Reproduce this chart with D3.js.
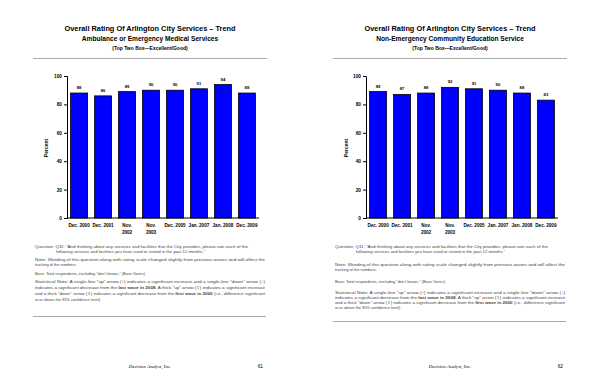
<!DOCTYPE html>
<html>
<head>
<meta charset="utf-8">
<script src="https://cdn.jsdelivr.net/npm/d3@7"></script>
<style>
body { margin: 0; background: #fff; }
svg { display: block; font-family: 'Liberation Sans', Arial, sans-serif; }
</style>
</head>
<body>
<div id="playground"></div>
<script>
// Data
var periods = ['Dec. 2000', 'Dec. 2001', 'Nov.|2002', 'Nov.|2003', 'Dec. 2005', 'Jan. 2007', 'Jan. 2008', 'Dec. 2009']
var ambulanceValues = [88, 86, 89, 90, 90, 91, 94, 88]
var educationValues = [89, 87, 88, 92, 91, 90, 88, 83]
var yTicks = [0, 20, 40, 60, 80, 100]

var titleMain = 'Overall Rating Of Arlington City Services \u2013 Trend'
var subtitles = ['Ambulance or Emergency Medical Services', 'Non-Emergency Community Education Service']
var titleNote = '(Top Two Box\u2014Excellent/Good)'
var pageNumbers = ['61', '62']

var settings = {}
settings.width = 600
settings.height = 388
settings.font = "'Liberation Sans', Arial, sans-serif"

var svg = d3.select('#playground').append('svg')
	.attr('width', settings.width)
	.attr('height', settings.height)

// one page per chart
var pages = [
	{ dx: 0, values: ambulanceValues, subtitle: subtitles[0], page: pageNumbers[0], footGap: [0, 0, 0], bottomRule: 316 },
	{ dx: 300, values: educationValues, subtitle: subtitles[1], page: pageNumbers[1], footGap: [0, 5, 8], bottomRule: 321 }
]

pages.forEach(function(p){
	var g = svg.append('g').attr('transform', 'translate(' + p.dx + ',0)')

	// Titles
	g.append('text').attr('x', 150).attr('y', 31)
		.attr('text-anchor', 'middle').attr('font-size', 6.6).attr('font-weight', 'bold')
		.attr('textLength', 171).attr('lengthAdjust', 'spacingAndGlyphs')
		.text(titleMain)
	g.append('text').attr('x', 150).attr('y', 41)
		.attr('text-anchor', 'middle').attr('font-size', 6.6).attr('font-weight', 'bold')
		.text(p.subtitle)
	g.append('text').attr('x', 150).attr('y', 50)
		.attr('text-anchor', 'middle').attr('font-size', 5).attr('font-weight', 'bold')
		.text(titleNote)
	g.append('line').attr('x1', 33).attr('x2', 267).attr('y1', 58.5).attr('y2', 58.5)
		.attr('stroke', '#aaa').attr('stroke-width', 1)

	// Scales
	var x0 = p.dx === 0 ? 67 : 66
	var x = d3.scaleBand().domain(periods).range([x0, x0 + 192]).paddingInner(0.29).paddingOuter(0.15)
	var y = d3.scaleLinear().domain([0, 100]).range([218, 76])

	// Bars
	g.selectAll('rect.bar').data(p.values).enter().append('rect')
		.attr('class', 'bar')
		.attr('x', function(d, i){ return x(periods[i]) })
		.attr('y', function(d){ return y(d) })
		.attr('width', x.bandwidth())
		.attr('height', function(d){ return y(0) - y(d) })
		.attr('fill', '#0000ff')
		.attr('stroke', '#000')
		.attr('stroke-width', 0.8)

	// Value labels
	g.selectAll('text.val').data(p.values).enter().append('text')
		.attr('class', 'val')
		.attr('x', function(d, i){ return x(periods[i]) + x.bandwidth() / 2 })
		.attr('y', function(d){ return y(d) - 4 })
		.attr('text-anchor', 'middle').attr('font-size', 4.2).attr('font-weight', 'bold')
		.text(function(d){ return d })

	// Y axis
	var yAxis = g.append('g').attr('transform', 'translate(' + x0 + ',0)')
		.call(d3.axisLeft(y).tickValues(yTicks).tickSize(3).tickPadding(2))
	yAxis.select('.domain').attr('stroke', '#000').attr('stroke-width', 1)
	yAxis.selectAll('.tick line').attr('stroke', '#000')
	yAxis.selectAll('.tick text').attr('font-size', 4.8).attr('font-weight', 'bold')
		.attr('font-family', settings.font).attr('fill', '#000')

	// X axis baseline
	g.append('line').attr('x1', x0).attr('x2', x0 + 192).attr('y1', y(0)).attr('y2', y(0))
		.attr('stroke', '#000').attr('stroke-width', 1)

	// X labels
	periods.forEach(function(lab){
		var parts = lab.split('|')
		var t = g.append('text')
			.attr('x', x(lab) + x.bandwidth() / 2).attr('y', 227)
			.attr('text-anchor', 'middle').attr('font-size', 4.6).attr('font-weight', 'bold')
		parts.forEach(function(s, k){
			t.append('tspan').attr('x', x(lab) + x.bandwidth() / 2).attr('dy', k === 0 ? 0 : 6.5).text(s)
		})
	})

	// Y label
	g.append('text').attr('transform', 'translate(48,148) rotate(-90)')
		.attr('text-anchor', 'middle').attr('font-size', 5).attr('font-weight', 'bold')
		.text('Percent')

	// Footnotes
	var fs = 3.9
	function line(txt, xx, yy, len){
		var t = g.append('text').attr('x', xx).attr('y', yy).attr('font-size', fs).attr('fill', '#444')
		if (len) t.attr('textLength', len).attr('lengthAdjust', 'spacingAndGlyphs')
		if (typeof txt === 'string') t.text(txt)
		else txt.forEach(function(s){
			t.append('tspan').attr('font-weight', s.b ? 'bold' : null).text(s.t)
		})
		return t
	}
	var gn = p.footGap[1], gs = p.footGap[2]
	line('Question:  Q11: \u201cAnd thinking about any services and facilities that the City provides, please rate each of the', 35, 248, 213)
	line('following services and facilities you have used or visited in the past 12 months.\u201d', 56, 253, 149)
	line('Note:  Wording of this question along with rating scale changed slightly from previous waves and will affect the', 35, 261 + gn, 230)
	line('tracking of the numbers.', 35, 266 + gn)
	line('Base:  Total respondents, excluding \u201cdon\u2019t knows.\u201d  (Base Varies)', 35, 275 + gs)
	line('Statistical Note:   A single-line \u201cup\u201d arrow (\u2191) indicates a significant increase and a single-line \u201cdown\u201d arrow (\u2193)', 35, 283 + gs + (p.dx ? 3 : 0), 230)
	line([{t: 'indicates a significant decrease from the '}, {t: 'last wave in 2008', b: 1}, {t: '.  A thick \u201cup\u201d arrow (\u21e7) indicates a significant increase'}], 35, 289 + gs + (p.dx ? 2 : 0), 230)
	line([{t: 'and a thick \u201cdown\u201d arrow (\u21e9) indicates a significant decrease from the '}, {t: 'first wave in 2000', b: 1}, {t: ' (i.e., difference significant'}], 35, 295 + gs + (p.dx ? 1 : 0), 230)
	line('at or above the 95% confidence level).', 35, 301 + gs)

	g.append('line').attr('x1', 33).attr('x2', 266).attr('y1', p.bottomRule + 0.5).attr('y2', p.bottomRule + 0.5)
		.attr('stroke', '#aaa').attr('stroke-width', 1)

	// Footer
	g.append('text').attr('x', 150).attr('y', 368)
		.attr('text-anchor', 'middle').attr('font-size', 4.8).attr('font-style', 'italic')
		.attr('font-family', "'Liberation Serif', 'Times New Roman', serif")
		.text('Decision Analyst, Inc.')
	g.append('text').attr('x', 263).attr('y', 368)
		.attr('text-anchor', 'end').attr('font-size', 4.8)
		.text(p.page)
})
</script>
</body>
</html>
